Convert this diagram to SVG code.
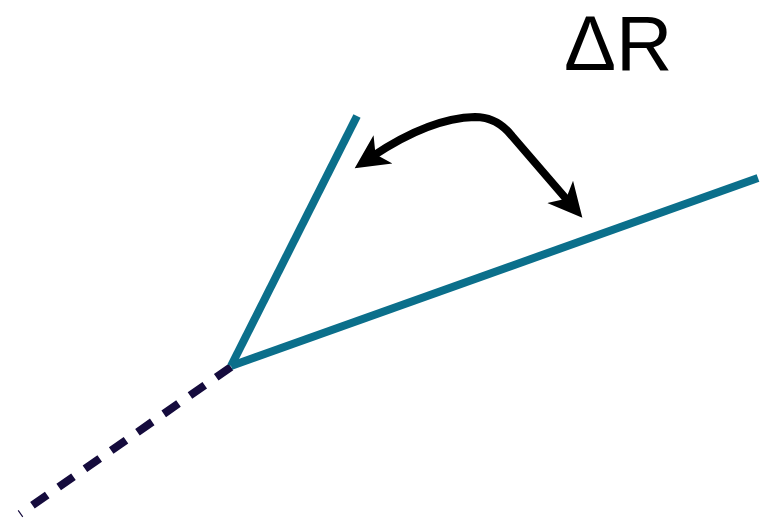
<svg xmlns="http://www.w3.org/2000/svg" width="764" height="521" viewBox="0 0 764 521">
<style>
.ray{stroke:#0b6f8b;stroke-width:8;fill:none;stroke-linecap:butt}
.dash{stroke:#150b3d;stroke-width:8;fill:none;stroke-dasharray:18 14}
.arc{stroke:#000;stroke-width:8;fill:none;stroke-linejoin:round}
.lbl{font-family:"Liberation Sans",Arial,sans-serif;font-size:78px;fill:#000}
</style>
<defs>
<marker id="ah" markerUnits="userSpaceOnUse" markerWidth="40" markerHeight="40" viewBox="0 -20 40 40" refX="12" refY="0" orient="auto-start-reverse">
<path d="M0,-17 L34,0 L0,17 L9,0 Z" fill="#000"/>
</marker>
</defs>
<rect width="764" height="521" fill="#fff"/>
<g id="connectors">
<line id="baseline" class="dash" x1="231" y1="367" x2="20" y2="514"/>
<line id="ray1" class="ray" x1="231" y1="366" x2="357" y2="116"/>
<line id="ray2" class="ray" x1="231" y1="366" x2="758" y2="178"/>
<path id="angle-arrow" class="arc" d="M373,156 Q430,118 475,117 Q497,117 512,136 L568,201" marker-start="url(#ah)" marker-end="url(#ah)"/>
</g>
<g id="label">
<text class="lbl" x="564" y="70">ΔR</text>
</g>
</svg>
